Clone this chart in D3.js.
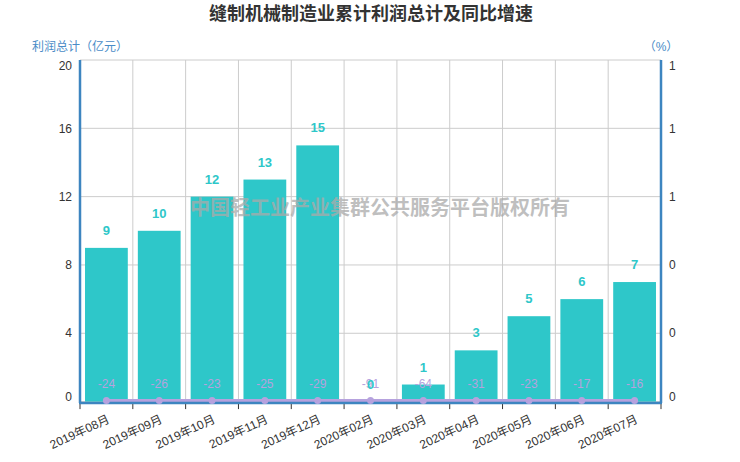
<!DOCTYPE html>
<html>
<head>
<meta charset="utf-8">
<script src="https://cdn.jsdelivr.net/npm/d3@7"></script>
<style>
  body { margin: 0; background: #fff; }
  svg text { font-family: "Liberation Sans", Arial, "Noto Sans CJK SC", sans-serif; }
</style>
</head>
<body>
<div id="chart"></div>
<script>
// dati
const months = ["2019年08月", "2019年09月", "2019年10月", "2019年11月", "2019年12月", "2020年02月", "2020年03月", "2020年04月", "2020年05月", "2020年06月", "2020年07月"];
const profit = [9, 10, 12, 13, 15, 0, 1, 3, 5, 6, 7];
const growth = [-24, -26, -23, -25, -29, -91, -64, -31, -23, -17, -16];
const leftTicks = [0, 4, 8, 12, 16, 20];
const rightTicks = [0, 0.2, 0.4, 0.6, 0.8, 1];

const width = 740;
const height = 462;
const margin = { top: 60, right: 79, bottom: 60.4, left: 80 };
const axisColor = "#3d85c0";
const barColor = "#2ec7c9";
const lineColor = "#b6a2de";

const svg = d3.select("#chart").append("svg").attr("width", width).attr("height", height);

const x = d3.scaleBand().domain(months).range([margin.left, width - margin.right]).paddingInner(0.19).paddingOuter(0.095);
const xCell = d3.scaleBand().domain(months).range([margin.left, width - margin.right]);
const y = d3.scaleLinear().domain([0, 20]).range([height - margin.bottom, margin.top]);
const yR = d3.scaleLinear().domain([0, 1]).range([height - margin.bottom, margin.top]).clamp(true);

// griglia orizzontale
svg.append("g")
  .selectAll("line")
  .data(leftTicks)
  .join("line")
  .attr("x1", margin.left).attr("x2", width - margin.right)
  .attr("y1", d => y(d)).attr("y2", d => y(d))
  .attr("stroke", "#ccc");

// griglia verticale
svg.append("g")
  .selectAll("line")
  .data(months.slice(1))
  .join("line")
  .attr("x1", d => xCell(d)).attr("x2", d => xCell(d))
  .attr("y1", margin.top).attr("y2", height - margin.bottom)
  .attr("stroke", "#ccc");

// titolo
svg.append("text")
  .attr("x", width / 2 + 1).attr("y", 20)
  .attr("text-anchor", "middle")
  .attr("font-size", 18).attr("font-weight", "bold")
  .attr("fill", "#333")
  .text("缝制机械制造业累计利润总计及同比增速");

// titoli assi
svg.append("text")
  .attr("x", 32).attr("y", 51)
  .attr("font-size", 12).attr("fill", "#4a8cc7")
  .text("利润总计（亿元）");
svg.append("text")
  .attr("x", width - margin.right).attr("y", 51)
  .attr("text-anchor", "middle")
  .attr("font-size", 12).attr("fill", "#4a8cc7")
  .text("（%）");

// barre
svg.append("g")
  .selectAll("rect")
  .data(profit)
  .join("rect")
  .attr("x", (d, i) => x(months[i]))
  .attr("y", d => y(d))
  .attr("width", x.bandwidth())
  .attr("height", d => y(0) - y(d))
  .attr("fill", barColor);

// watermark
svg.append("text")
  .attr("x", 380).attr("y", 215)
  .attr("text-anchor", "middle")
  .attr("font-size", 20).attr("font-weight", "bold")
  .attr("fill", "#aaa").attr("fill-opacity", 0.75)
  .text("中国轻工业产业集群公共服务平台版权所有");

// linea crescita
const line = d3.line()
  .x((d, i) => xCell(months[i]) + xCell.bandwidth() / 2)
  .y(d => yR(d) - 1);

svg.append("path")
  .datum(growth)
  .attr("d", line)
  .attr("fill", "none")
  .attr("stroke", lineColor)
  .attr("stroke-width", 3);

// assi
const xAxisY = height - margin.bottom + 1.5;
svg.append("line")
  .attr("x1", margin.left - 1).attr("x2", width - margin.right + 1)
  .attr("y1", xAxisY).attr("y2", xAxisY)
  .attr("stroke", axisColor).attr("stroke-width", 2.5);

svg.append("line")
  .attr("x1", margin.left).attr("x2", margin.left)
  .attr("y1", margin.top).attr("y2", xAxisY)
  .attr("stroke", axisColor).attr("stroke-width", 2.5);

svg.append("line")
  .attr("x1", width - margin.right).attr("x2", width - margin.right)
  .attr("y1", margin.top).attr("y2", xAxisY)
  .attr("stroke", axisColor).attr("stroke-width", 2.5);

// punti
svg.append("g")
  .selectAll("circle")
  .data(growth)
  .join("circle")
  .attr("cx", (d, i) => xCell(months[i]) + xCell.bandwidth() / 2)
  .attr("cy", d => yR(d) - 1)
  .attr("r", 3.5)
  .attr("fill", lineColor);

// tacche asse x
svg.append("g")
  .selectAll("line")
  .data(months.concat(["end"]))
  .join("line")
  .attr("x1", (d, i) => margin.left + i * xCell.bandwidth())
  .attr("x2", (d, i) => margin.left + i * xCell.bandwidth())
  .attr("y1", xAxisY + 1).attr("y2", xAxisY + 6)
  .attr("stroke", "#333");

// etichette asse x
svg.append("g")
  .selectAll("text")
  .data(months)
  .join("text")
  .attr("transform", d => `translate(${xCell(d) + xCell.bandwidth() / 2 + 4},${xAxisY + 19}) rotate(-25)`)
  .attr("text-anchor", "end")
  .attr("font-size", 12)
  .attr("fill", "#333")
  .text(d => d);

// etichette asse sinistro
svg.append("g")
  .selectAll("text")
  .data(leftTicks)
  .join("text")
  .attr("x", margin.left - 8)
  .attr("y", d => y(d))
  .attr("dy", d => d === 20 ? "0.85em" : d === 0 ? "-0.05em" : "0.35em")
  .attr("text-anchor", "end")
  .attr("font-size", 12)
  .attr("fill", "#333")
  .text(d => d);

// etichette asse destro (arrotondate)
svg.append("g")
  .selectAll("text")
  .data(rightTicks)
  .join("text")
  .attr("x", width - margin.right + 8)
  .attr("y", d => yR(d))
  .attr("dy", d => d === 1 ? "0.85em" : d === 0 ? "-0.05em" : "0.35em")
  .attr("font-size", 12)
  .attr("fill", "#333")
  .text(d => d3.format(".0f")(d));

// etichette crescita
svg.append("g")
  .selectAll("text")
  .data(growth)
  .join("text")
  .attr("x", (d, i) => xCell(months[i]) + xCell.bandwidth() / 2)
  .attr("y", d => yR(d) - 14)
  .attr("text-anchor", "middle")
  .attr("font-size", 12)
  .attr("fill", lineColor)
  .text(d => d);

// etichette barre
svg.append("g")
  .selectAll("text")
  .data(profit)
  .join("text")
  .attr("x", (d, i) => x(months[i]) + x.bandwidth() / 2)
  .attr("y", d => y(d) - 13)
  .attr("text-anchor", "middle")
  .attr("font-size", 13).attr("font-weight", "bold")
  .attr("fill", barColor)
  .text(d => d);
</script>
</body>
</html>
